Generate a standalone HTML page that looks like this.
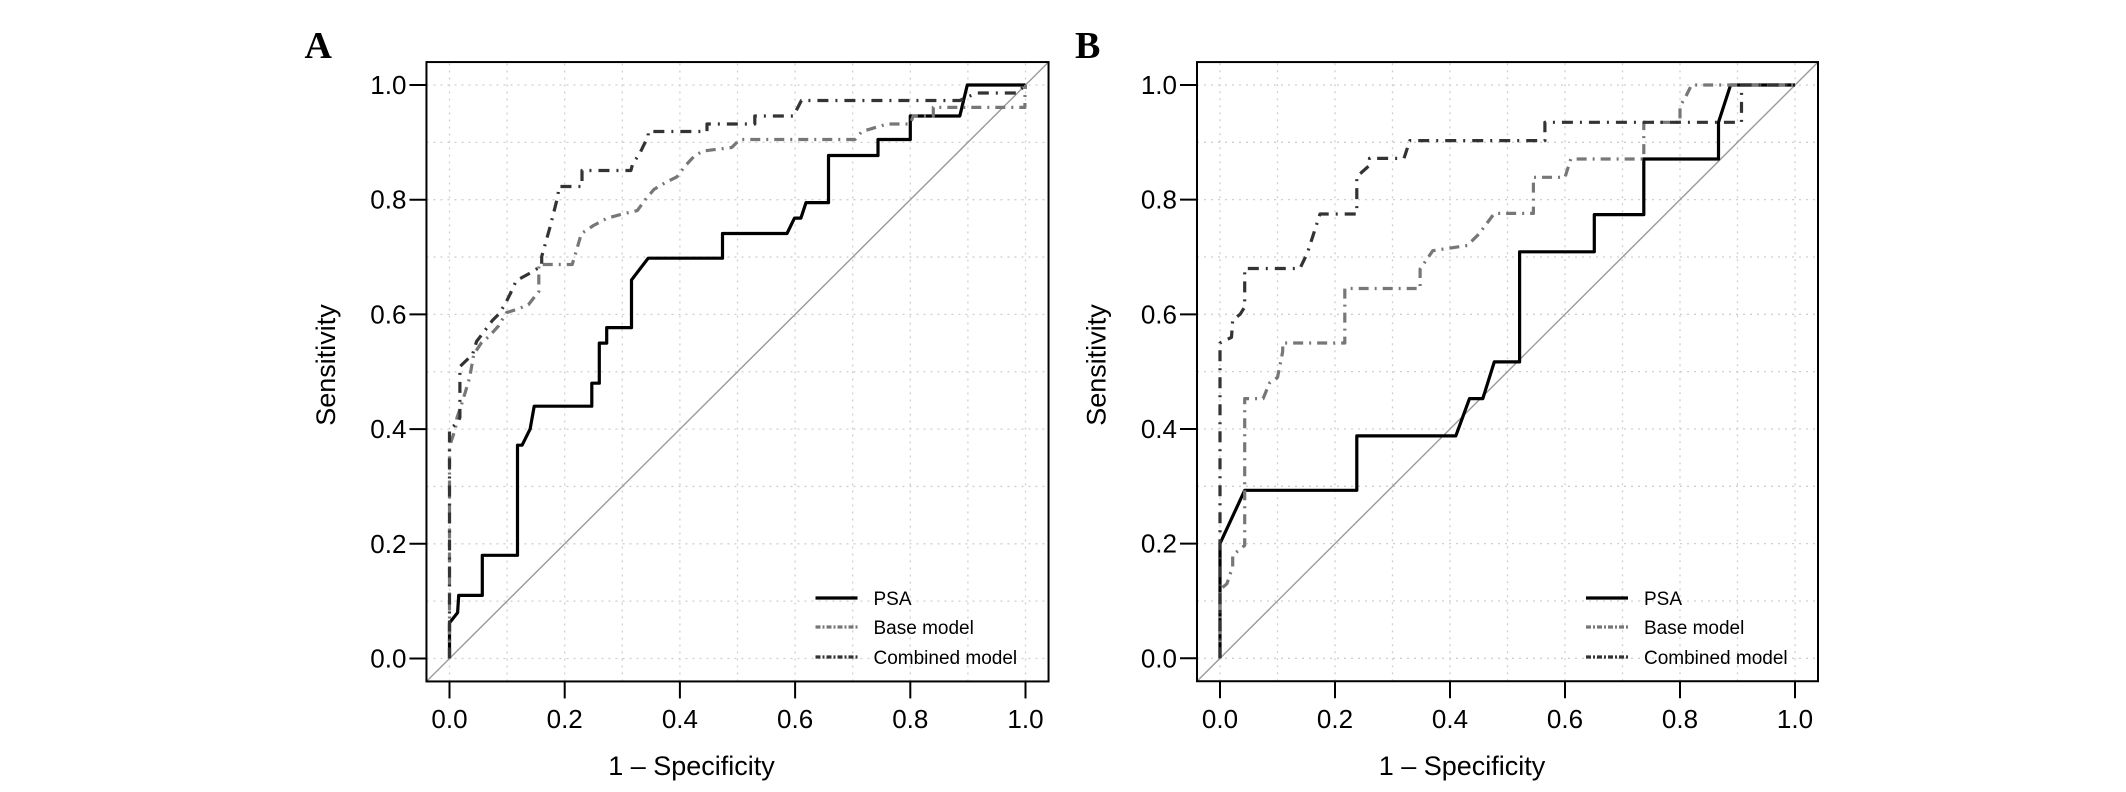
<!DOCTYPE html>
<html><head><meta charset="utf-8"><style>
html,body{margin:0;padding:0;background:#fff;}
svg{display:block;font-family:"Liberation Sans",Arial,sans-serif;}
</style></head>
<body>
<svg id="fig" width="2126" height="792" viewBox="0 0 2126 792" xmlns="http://www.w3.org/2000/svg">
<rect width="2126" height="792" fill="#fff"/>
</svg>
<script>
// ---- data (x = 1 - specificity, y = sensitivity) ----
const xTicks = [0, 0.2, 0.4, 0.6, 0.8, 1.0];
const yTicks = [0, 0.2, 0.4, 0.6, 0.8, 1.0];
const tickLabels = ["0.0","0.2","0.4","0.6","0.8","1.0"];
const seriesNames = ["PSA","Base model","Combined model"];

const psaA_x = [0,0,0.014,0.016,0.057,0.057,0.118,0.118,0.126,0.14,0.147,0.247,0.247,0.26,0.26,0.273,0.273,0.316,0.316,0.345,0.474,0.474,0.586,0.599,0.61,0.619,0.658,0.658,0.744,0.744,0.80,0.80,0.886,0.899,1];
const psaA_y = [0,0.062,0.08,0.11,0.11,0.18,0.18,0.372,0.372,0.40,0.44,0.44,0.48,0.48,0.55,0.55,0.577,0.577,0.66,0.698,0.698,0.741,0.741,0.768,0.768,0.795,0.795,0.877,0.877,0.905,0.905,0.946,0.946,1,1];

const baseA_x = [0,0,0.01,0.013,0.02,0.028,0.035,0.042,0.055,0.07,0.085,0.099,0.12,0.137,0.155,0.155,0.213,0.22,0.229,0.25,0.274,0.30,0.326,0.34,0.355,0.375,0.395,0.41,0.425,0.44,0.49,0.504,0.704,0.716,0.76,0.80,0.805,0.84,0.84,0.999,0.999,1];
const baseA_y = [0,0.37,0.40,0.42,0.44,0.466,0.49,0.53,0.55,0.563,0.58,0.603,0.61,0.617,0.64,0.687,0.687,0.71,0.741,0.755,0.768,0.775,0.781,0.80,0.818,0.83,0.84,0.86,0.876,0.885,0.891,0.905,0.905,0.919,0.932,0.932,0.946,0.946,0.961,0.961,0.978,1];

const combA_x = [0,0,0.013,0.018,0.018,0.04,0.047,0.06,0.075,0.085,0.096,0.105,0.116,0.14,0.16,0.16,0.175,0.188,0.19,0.23,0.23,0.315,0.318,0.33,0.345,0.345,0.447,0.447,0.53,0.53,0.597,0.611,0.886,0.915,0.985,1];
const combA_y = [0,0.40,0.41,0.42,0.509,0.53,0.553,0.57,0.59,0.60,0.617,0.635,0.659,0.672,0.685,0.701,0.754,0.806,0.823,0.823,0.851,0.851,0.863,0.88,0.911,0.919,0.919,0.932,0.932,0.946,0.946,0.973,0.973,0.986,0.986,1];

const psaB_x = [0,0,0.043,0.238,0.238,0.41,0.434,0.457,0.477,0.521,0.521,0.651,0.651,0.737,0.737,0.867,0.867,0.888,1];
const psaB_y = [0,0.20,0.293,0.293,0.388,0.388,0.453,0.453,0.517,0.517,0.709,0.709,0.774,0.774,0.871,0.871,0.935,1,1];

const baseB_x = [0,0,0.012,0.022,0.022,0.043,0.043,0.075,0.086,0.10,0.109,0.109,0.217,0.217,0.348,0.348,0.37,0.43,0.45,0.477,0.545,0.545,0.60,0.61,0.737,0.737,0.80,0.80,0.81,0.82,1];
const baseB_y = [0,0.12,0.13,0.16,0.18,0.197,0.453,0.453,0.48,0.49,0.535,0.55,0.55,0.645,0.645,0.679,0.711,0.72,0.74,0.776,0.776,0.839,0.839,0.871,0.871,0.935,0.935,0.963,0.98,1,1];

const combB_x = [0,0,0.02,0.022,0.035,0.043,0.043,0.139,0.152,0.174,0.238,0.238,0.26,0.26,0.32,0.33,0.565,0.565,0.907,0.907,1];
const combB_y = [0,0.55,0.56,0.59,0.60,0.613,0.68,0.68,0.707,0.775,0.775,0.84,0.86,0.872,0.872,0.903,0.903,0.935,0.935,1,1];

// ---- drawing ----
const NS = "http://www.w3.org/2000/svg";
const svg = document.getElementById("fig");
function mk(tag, attrs, parent) {
  const e = document.createElementNS(NS, tag);
  for (const k in attrs) e.setAttribute(k, attrs[k]);
  (parent || svg).appendChild(e);
  return e;
}
const styles = [
  {stroke:"#000", dash:"none", w:3.2},
  {stroke:"#777", dash:"10,6,2,6", w:3.2},
  {stroke:"#333", dash:"11,7,2,7", w:3.2}
];

function panel(key, letter, x0, x1, y0, y1, series) {
  const sx = v => x0 + v * (x1 - x0);
  const sy = v => y0 - v * (y0 - y1);
  const ux = (x1 - x0) * 0.04, uy = (y0 - y1) * 0.04;
  const g = mk("g", {});
  
  

  for (let i = 0; i <= 10; i++) {
    const v = i / 10;
    const gl = mk("line", {x1:sx(v), x2:sx(v), y1:y0+uy, y2:y1-uy, stroke:"#cfcfcf", "stroke-width":1.3, "stroke-dasharray":"2,5"}, g);
    
    
    const hl = mk("line", {x1:sx(0)-ux, x2:sx(1)+ux, y1:sy(v), y2:sy(v), stroke:"#cfcfcf", "stroke-width":1.3, "stroke-dasharray":"2,5"}, g);
    
    
  }
  const dg = mk("line", {x1:sx(-0.04), y1:sy(-0.04), x2:sx(1.04), y2:sy(1.04), stroke:"#999", "stroke-width":1.4}, g);
  
  

  series.forEach((s, i) => {
    let d = "";
    for (let k = 0; k < s[0].length; k++) d += (k ? "L" : "M") + sx(s[0][k]).toFixed(1) + "," + sy(s[1][k]).toFixed(1);
    const p = mk("path", {d:d, fill:"none", stroke:styles[i].stroke, "stroke-width":styles[i].w, "stroke-dasharray":styles[i].dash, "stroke-linejoin":"round"}, g);
    
    
  });

  const fr = mk("rect", {x:x0-ux, y:y1-uy, width:(x1-x0)+2*ux, height:(y0-y1)+2*uy, fill:"none", stroke:"#000", "stroke-width":2}, g);
  
  

  const bottom = y0 + uy, left = x0 - ux;
  xTicks.forEach((v, i) => {
    const t = mk("line", {x1:sx(v), x2:sx(v), y1:bottom, y2:bottom+17, stroke:"#000", "stroke-width":2}, g);
    
    
    const tx = mk("text", {x:sx(v), y:728, "text-anchor":"middle", "font-size":26, fill:"#000"}, g);
    tx.textContent = tickLabels[i];
    
    
  });
  yTicks.forEach((v, i) => {
    const t = mk("line", {x1:left-17, x2:left, y1:sy(v), y2:sy(v), stroke:"#000", "stroke-width":2}, g);
    
    
    const tx = mk("text", {x:left-20, y:sy(v)+9, "text-anchor":"end", "font-size":26, fill:"#000"}, g);
    tx.textContent = tickLabels[i];
    
    
  });

  const xt = mk("text", {x:x0+242, y:775, "text-anchor":"middle", "font-size":27, fill:"#000"}, g);
  xt.textContent = "1 \u2013 Specificity";
  
  
  const yx = x0 - 124, yy = 365;
  const yt = mk("text", {x:yx, y:yy, transform:"rotate(-90 "+yx+" "+yy+")", "text-anchor":"middle", "font-size":27, fill:"#000", dy:"0.35em"}, g);
  yt.textContent = "Sensitivity";
  
  

  const pl = mk("text", {x:x0-145, y:58, "font-family":"'Liberation Serif',serif", "font-weight":"bold", "font-size":38, fill:"#000"}, g);
  pl.textContent = letter;
  
  

  const lg = mk("g", {}, g);
  
  
  const rows = [598, 627, 657];
  seriesNames.forEach((n, i) => {
    const ln = mk("line", {x1:x0+366, x2:x0+408, y1:rows[i], y2:rows[i], stroke:styles[i].stroke, "stroke-width":styles[i].w, "stroke-dasharray": i ? "5,2,2,2" : "none"}, lg);
    
    
    const t = mk("text", {x:x0+424, y:rows[i]+7, "font-size":19, fill:"#000"}, lg);
    t.textContent = n;
    
    
  });
}

panel("a", "A", 449.5, 1025.5, 658.5, 85, [[psaA_x, psaA_y], [baseA_x, baseA_y], [combA_x, combA_y]]);
panel("b", "B", 1220, 1795, 658.3, 85, [[psaB_x, psaB_y], [baseB_x, baseB_y], [combB_x, combB_y]]);
</script>
</body></html>
